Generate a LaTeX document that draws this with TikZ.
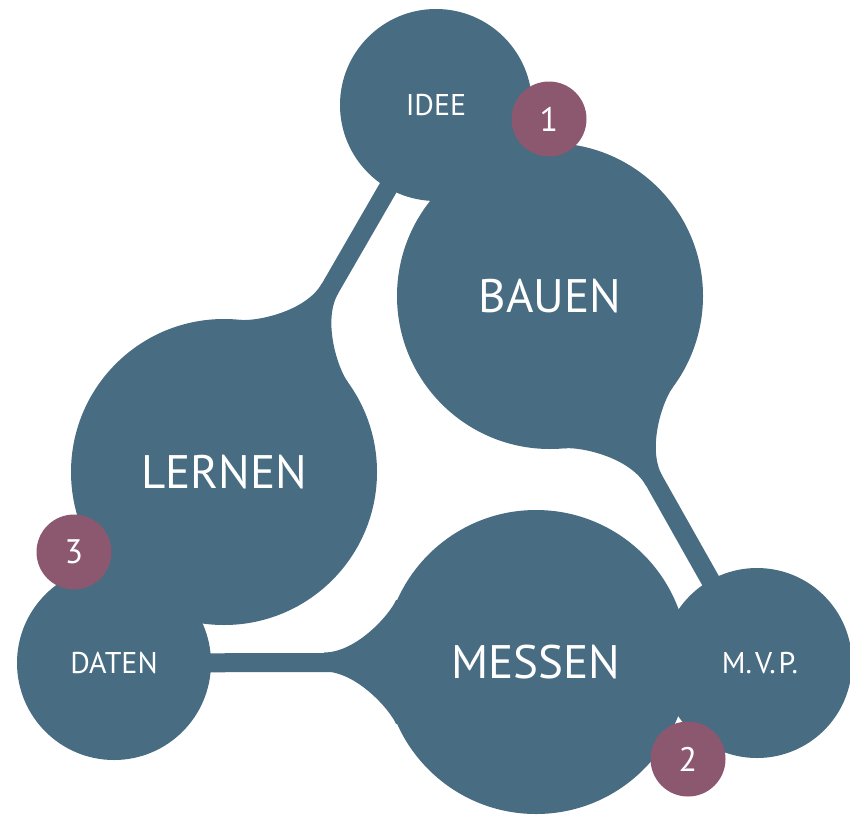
\documentclass[tikz,border=0pt]{standalone}
\usepackage{fontspec}
\setmainfont{PT Sans}
\usetikzlibrary{backgrounds}
\definecolor{bubblecol}{HTML}{486C82}
\definecolor{badgecol}{HTML}{8C5870}

\begin{document}
\begin{tikzpicture}[x=1pt, y=-1pt,
        bubble/.style={circle, fill=bubblecol, text=white, inner sep=0pt},
        badge/.style={circle, fill=badgecol, text=white, inner sep=0pt, minimum size=75pt, font=\fontsize{34}{36}\selectfont},
        band/.style={draw=bubblecol, line width=19pt}]
        \useasboundingbox (0,0) rectangle (850,814);

        % big circles
        \node[bubble, minimum size=306pt, font=\fontsize{47}{50}\selectfont] (bauen) at (550,296) {BAUEN};
        \node[bubble, minimum size=306pt, font=\fontsize{47}{50}\selectfont] (lernen) at (224,472) {LERNEN};
        \node[bubble, minimum size=304pt, font=\fontsize{47}{50}\selectfont] (messen) at (536,662) {MESSEN};

        % small circles
        \node[bubble, minimum size=192pt, font=\fontsize{30}{32}\selectfont] (idee) at (436,105) {IDEE};
        \node[bubble, minimum size=194pt, font=\fontsize{30}{32}\selectfont] (daten) at (114,663) {DATEN};
        \node[bubble, minimum size=190pt, font=\fontsize{30}{32}\selectfont] (mvp) at (757,663) {\hspace{6pt}M.\kern3pt V.\kern3pt P.};

        \begin{scope}[on background layer]
            \draw[band] (lernen.center) -- (idee.center);
            \draw[band] (bauen.center) -- (mvp.center);
            \draw[band] (messen.center) -- (daten.center);
            % flares where the bands leave the big circles
            \foreach \c/\a in {lernen/60, bauen/-60.6, messen/180}
                \foreach \s in {1,-1}
                    \fill[bubblecol, shift={(\c.center)}, rotate=\a, yscale=\s]
                        (212,9.5) .. controls (180,9.5) and (146.7,46.7) .. (139.8,62.2) -- (0,0) -- (212,0) -- cycle;
        \end{scope}

        % numbers
        \node[badge] (one) at (549,119) {1};
        \node[badge] (two) at (688,759) {2};
        \node[badge] (three) at (74,552) {3};
    \end{tikzpicture}
\end{document}
